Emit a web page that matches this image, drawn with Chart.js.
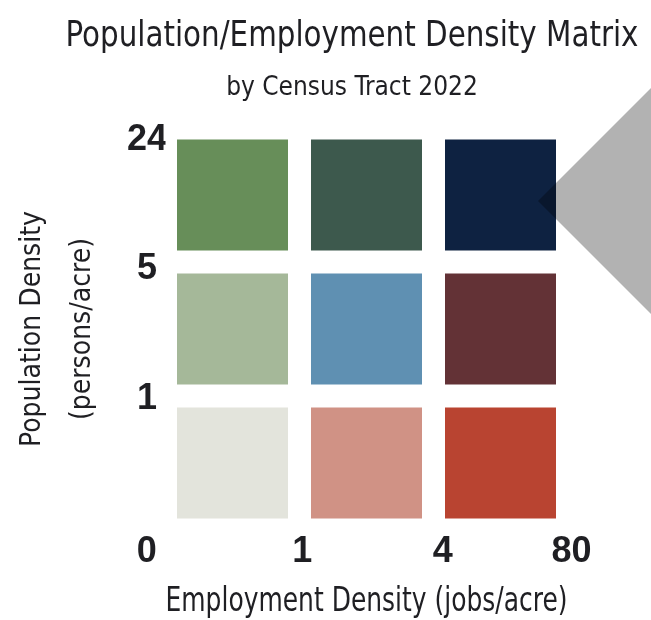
<!DOCTYPE html>
<html><head><meta charset="utf-8">
<script src="https://cdn.jsdelivr.net/npm/chart.js@4.4.1/dist/chart.umd.min.js"></script>
<style>html,body{margin:0;padding:0;background:#fff;} #wrap{width:651px;height:620px;position:relative;}</style>
</head><body><div id="wrap"><canvas id="c"></canvas></div>
<script>
// ---- data ----
const empBins = ['0–1', '1–4', '4–80'];          // employment density bins (jobs/acre), columns
const popBins = ['0–1', '1–5', '5–24'];          // population density bins (persons/acre), rows bottom→top
const empBreaks = ['0', '1', '4', '80'];         // x tick labels at bin edges
const popBreaks = ['0', '1', '5', '24'];         // y tick labels at bin edges
const colorsLowPop  = ['#e3e4dc', '#d09285', '#b94431'];
const colorsMidPop  = ['#a5b899', '#5f90b2', '#633236'];
const colorsHighPop = ['#678e59', '#3d594d', '#0e2241'];
const highlightCell = { emp: '4–80', pop: '5–24' };

// ---- styling ----
const COND = "'DejaVu Sans Condensed', 'DejaVu Sans', sans-serif";
const BOLD = "'Liberation Sans', Arial, sans-serif";
const INK = '#1f1f23';
const rowColors = [colorsLowPop, colorsMidPop, colorsHighPop];

const datasets = popBins.map((p, r) => ({
  label: p,
  stack: 'matrix',
  data: empBins.map((e, c) => ({ x: c + 0.5, y: [r, r + 1] })),
  backgroundColor: rowColors[r],
  borderColor: 'rgba(0,0,0,0)',
  borderWidth: 11.5,
  borderSkipped: false,
  inflateAmount: 0,
  barThickness: 'flex',
  categoryPercentage: 1,
  barPercentage: 1
}));

const pointerPlugin = {
  id: 'pointer',
  afterDatasetsDraw(chart) {
    const { ctx } = chart;
    const xs = chart.scales.x, ys = chart.scales.y;
    const c = empBins.indexOf(highlightCell.emp), r = popBins.indexOf(highlightCell.pop);
    const ax = xs.getPixelForValue(c + 0.78), ay = ys.getPixelForValue(r + 0.455);
    const L = chart.width;
    ctx.save();
    ctx.beginPath();
    ctx.moveTo(ax, ay);
    ctx.lineTo(ax + L, ay - L);
    ctx.lineTo(ax + L, ay + L);
    ctx.closePath();
    ctx.fillStyle = 'rgba(0,0,0,0.3)';
    ctx.fill();
    ctx.restore();
  }
};

new Chart(document.getElementById('c'), {
  type: 'bar',
  data: { datasets },
  plugins: [pointerPlugin],
  options: {
    responsive: true,
    maintainAspectRatio: false,
    animation: false,
    layout: { padding: { left: 65.5, right: 12.5, top: 0, bottom: 0 } },
    plugins: {
      legend: { display: false },
      tooltip: { enabled: false },
      title: {
        display: true,
        text: 'Population/Employment Density Matrix',
        color: INK,
        font: { family: COND, size: 36, weight: 'normal', lineHeight: 1.2 },
        padding: { top: 14.9, bottom: 0 }
      },
      subtitle: {
        display: true,
        text: 'by Census Tract 2022',
        color: INK,
        font: { family: COND, size: 26, weight: 'normal', lineHeight: 1.2 },
        padding: { top: 14.8, bottom: 23.9 }
      }
    },
    scales: {
      x: {
        type: 'linear',
        min: 0, max: 3,
        offset: false,
        grid: { display: false, drawTicks: false, tickLength: 0 },
        border: { display: false },
        afterBuildTicks: (s) => { s.ticks = [-0.14, 1.02, 2.07, 3.03].map(v => ({ value: v })); },
        afterFit: (s) => { s.height = 90; },
        ticks: {
          autoSkip: false,
          maxRotation: 0,
          padding: 4,
          color: INK,
          font: { family: BOLD, size: 36, weight: 'bold', lineHeight: 1 },
          callback: (v, i) => empBreaks[i]
        },
        title: {
          display: true,
          text: 'Employment Density (jobs/acre)',
          color: INK,
          font: { family: COND, size: 33, weight: 'normal', lineHeight: 1.2 },
          padding: { top: 0, bottom: -2 }
        }
      },
      y: {
        type: 'linear',
        min: 0, max: 3,
        stacked: false,
        offset: false,
        grid: { display: false, drawTicks: false, tickLength: 0 },
        border: { display: false },
        afterBuildTicks: (s) => { s.ticks = [0.98, 1.95, 2.91].map(v => ({ value: v })); },
        afterFit: (s) => { s.width = 100; },
        ticks: {
          autoSkip: false,
          crossAlign: 'center',
          padding: -1.5,
          color: INK,
          font: { family: BOLD, size: 36, weight: 'bold', lineHeight: 1 },
          callback: (v, i) => popBreaks[i + 1]
        },
        title: {
          display: true,
          text: ['Population Density', '(persons/acre)'],
          color: INK,
          font: { family: COND, size: 28, weight: 'normal', lineHeight: 1.786 },
          padding: { top: -57.3, bottom: 0 }
        }
      },
      yR: {
        type: 'linear',
        position: 'right',
        display: true,
        grid: { display: false, drawTicks: false },
        border: { display: false },
        ticks: { display: false },
        afterFit: (s) => { s.width = 71; }
      }
    }
  }
});
</script>
</body></html>
